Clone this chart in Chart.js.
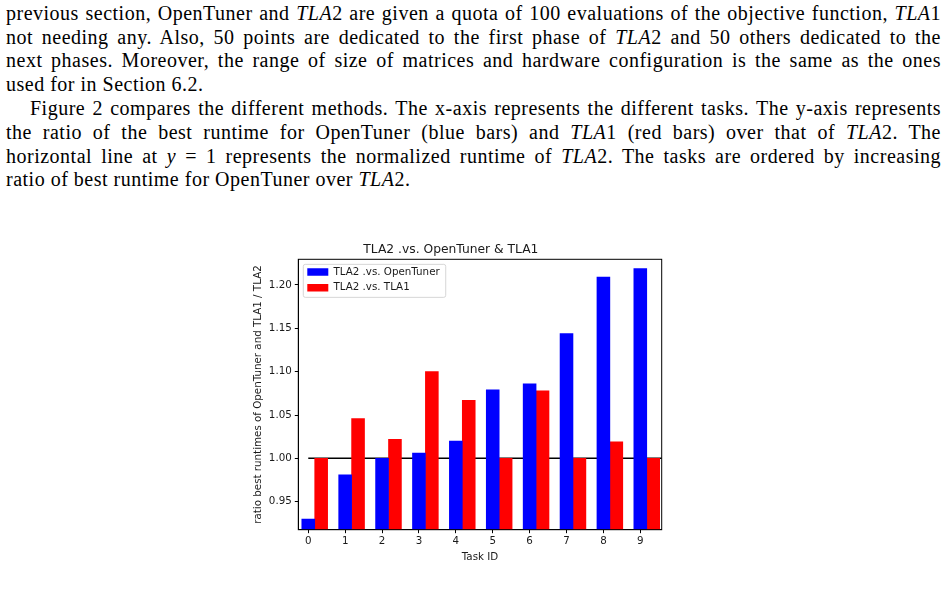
<!DOCTYPE html>
<html>
<head>
<meta charset="utf-8">
<script src="https://cdn.jsdelivr.net/npm/chart.js@4.4.1/dist/chart.umd.min.js"></script>
<style>
  html, body { margin: 0; padding: 0; background: #fff; }
  body { width: 948px; height: 595px; position: relative; overflow: hidden; }
  .text { position: absolute; left: 6px; top: 1.8px; width: 935px;
          font-family: "Liberation Serif", serif; font-size: 20px; line-height: 23.8px; color: #000;
          letter-spacing: 0.5px; }
  .j { text-align: justify; text-align-last: justify; white-space: nowrap; }
  .l { text-align: left; white-space: nowrap; }
  .ind { padding-left: 24px; }
  #wrap { position: absolute; left: 240px; top: 235px; width: 480px; height: 330px; }
</style>
</head>
<body>
<div class="text">
  <div class="j">previous section, OpenTuner and <i>TLA</i>2 are given a quota of 100 evaluations of the objective function, <i>TLA</i>1</div>
  <div class="j">not needing any. Also, 50 points are dedicated to the first phase of <i>TLA</i>2 and 50 others dedicated to the</div>
  <div class="j">next phases. Moreover, the range of size of matrices and hardware configuration is the same as the ones</div>
  <div class="l">used for in Section 6.2.</div>
  <div class="j ind">Figure 2 compares the different methods. The x-axis represents the different tasks. The y-axis represents</div>
  <div class="j">the ratio of the best runtime for OpenTuner (blue bars) and <i>TLA</i>1 (red bars) over that of <i>TLA</i>2. The</div>
  <div class="j">horizontal line at <i>y</i> = 1 represents the normalized runtime of <i>TLA</i>2. The tasks are ordered by increasing</div>
  <div class="l">ratio of best runtime for OpenTuner over <i>TLA</i>2.</div>
</div>
<div id="wrap"><canvas id="myChart"></canvas></div>
<script>
const taskIds = [0, 1, 2, 3, 4, 5, 6, 7, 8, 9];
const openTunerRatio = [0.930, 0.981, 1.000, 1.006, 1.020, 1.079, 1.086, 1.144, 1.209, 1.219];
const tla1Ratio = [1.000, 1.046, 1.022, 1.100, 1.067, 1.000, 1.078, 1.000, 1.019, 1.000];
const yTicks = [0.95, 1.00, 1.05, 1.10, 1.15, 1.20];
const xTicks = taskIds;
const refLine = [1, 1];
const barWidth = 0.35;

const font = "DejaVu Sans";
const ink = "#1a1a1a";
Chart.defaults.font.family = font;
Chart.defaults.color = ink;

// top + right spines and the legend frame, like matplotlib
const framePlugin = {
  id: "frame",
  afterLayout(chart) {
    // legend in chartArea gets top = 0, move it inside the axes
    const lg = chart.legend;
    const a = chart.chartArea;
    if (lg) {
      lg.left = a.left + 3.6;
      lg.top = a.top + 2.15;
      lg.right = a.right;
      lg.bottom = a.bottom;
    }
  },
  beforeDraw(chart) {
    const lg = chart.legend;
    if (!lg || !lg.legendHitBoxes.length) return;
    const ctx = chart.ctx;
    let x0 = Infinity, y0 = Infinity, x1 = -Infinity, y1 = -Infinity;
    lg.legendHitBoxes.forEach(b => {
      x0 = Math.min(x0, b.left); y0 = Math.min(y0, b.top);
      x1 = Math.max(x1, b.left + b.width); y1 = Math.max(y1, b.top + b.height);
    });
    x0 -= 4; y0 -= 2.5; x1 += 6; y1 += 4.5;
    ctx.save();
    ctx.fillStyle = "rgba(255,255,255,0.8)";
    ctx.strokeStyle = "#cccccc";
    ctx.lineWidth = 0.8;
    ctx.beginPath();
    ctx.roundRect(x0, y0, x1 - x0, y1 - y0, 2);
    ctx.fill();
    ctx.stroke();
    ctx.restore();
  },
  afterDraw(chart) {
    const a = chart.chartArea;
    const ctx = chart.ctx;
    ctx.save();
    ctx.strokeStyle = "#000";
    ctx.lineWidth = 1;
    ctx.strokeRect(a.left, a.top, a.right - a.left, a.bottom - a.top);
    ctx.restore();
  }
};

const data = {
  datasets: [{
    type: "bar",
    label: "TLA2 .vs. OpenTuner",
    data: taskIds.map((t, i) => ({ x: t, y: openTunerRatio[i] })),
    backgroundColor: "#0000ff",
    borderWidth: 0,
    grouped: false,
    barPercentage: 1,
    categoryPercentage: 1
  }, {
    type: "bar",
    label: "TLA2 .vs. TLA1",
    data: taskIds.map((t, i) => ({ x: t + barWidth, y: tla1Ratio[i] })),
    backgroundColor: "#ff0000",
    borderWidth: 0,
    grouped: false,
    barPercentage: 1,
    categoryPercentage: 1
  }, {
    type: "line",
    label: "ref",
    data: [{ x: 0, y: refLine[0] }, { x: 10, y: refLine[1] }],
    borderColor: "#000",
    borderWidth: 1.5,
    pointRadius: 0
  }]
};

const config = {
  type: "bar",
  data: data,
  plugins: [framePlugin],
  options: {
    responsive: false,
    animation: false,
    devicePixelRatio: 1,
    layout: { padding: { left: 0, right: 58.3, top: 0, bottom: 0 } },
    plugins: {
      title: {
        display: true,
        text: "TLA2 .vs. OpenTuner & TLA1",
        font: { size: 12.3, weight: "normal" },
        color: ink,
        padding: { top: 7.6, bottom: 1.94 }
      },
      legend: {
        display: true,
        position: "chartArea",
        align: "start",
        labels: {
          boxWidth: 21,
          boxHeight: 7.4,
          padding: 5.4,
          font: { size: 10.3 },
          color: ink,
          filter: item => item.text !== "ref"
        }
      },
      tooltip: { enabled: false }
    },
    scales: {
      x: {
        type: "linear",
        min: -0.27,
        max: 9.58,
        offset: false,
        grid: { offset: false, drawOnChartArea: false, drawTicks: true, tickLength: 3.5, color: "#000", tickWidth: 1 },
        border: { display: true, color: "#000", width: 1 },
        afterBuildTicks: s => { s.ticks = xTicks.map(v => ({ value: v })); },
        ticks: { font: { size: 10.3 }, color: ink, padding: 2, maxRotation: 0, callback: v => String(v) },
        title: { display: true, text: "Task ID", font: { size: 10.3 }, color: ink, padding: { top: 1, bottom: 1.8 } },
        afterFit: s => { s.height = 35.3; }
      },
      y: {
        min: 0.9177,
        max: 1.2296,
        grid: { drawOnChartArea: false, drawTicks: true, tickLength: 3.5, color: "#000", tickWidth: 1 },
        border: { display: true, color: "#000", width: 1 },
        afterBuildTicks: s => { s.ticks = yTicks.map(v => ({ value: v })); },
        ticks: { font: { size: 10.3 }, color: ink, padding: 3, callback: v => v.toFixed(2) },
        title: { display: true, text: "ratio best runtimes of OpenTuner and TLA1 / TLA2", font: { size: 10.3 }, color: ink, padding: { top: 12.1, bottom: 0 } },
        afterFit: s => { s.width = 58.3; }
      }
    }
  }
};

const canvas = document.getElementById("myChart");
canvas.width = 480;
canvas.height = 330;
const ratioChart = new Chart(canvas, config);
</script>
</body>
</html>
